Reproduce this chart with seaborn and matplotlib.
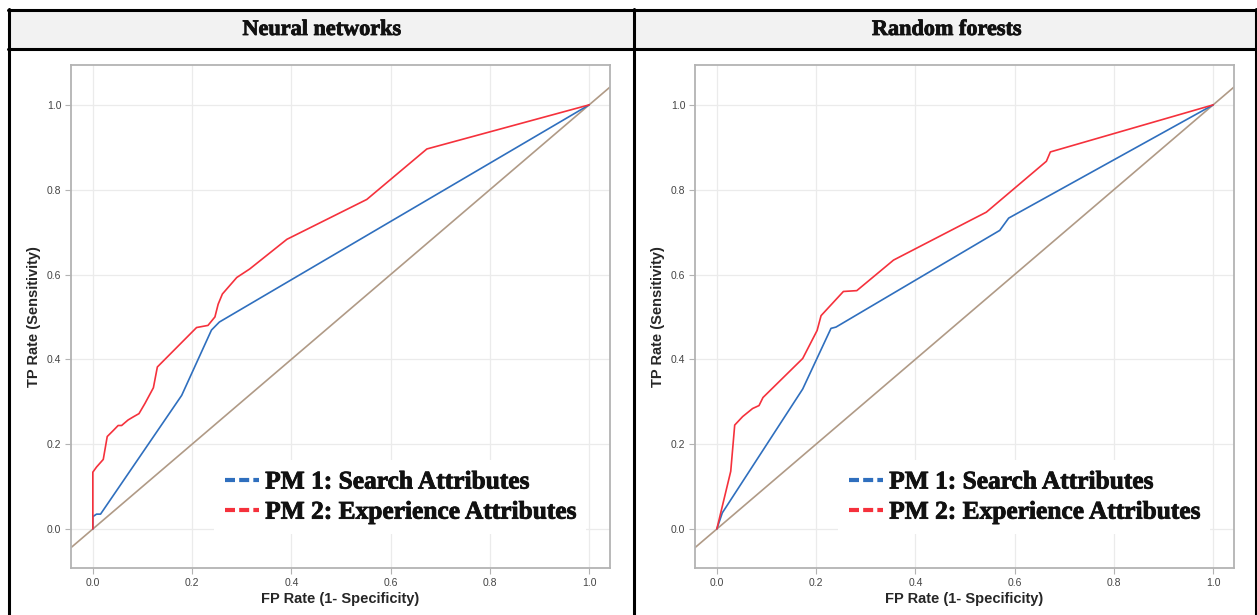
import numpy as np
import pandas as pd
import matplotlib
matplotlib.use("Agg")
import matplotlib.pyplot as plt
from matplotlib.lines import Line2D
from matplotlib.patches import Rectangle
from matplotlib.font_manager import FontProperties
import matplotlib.patheffects as pe
import seaborn as sns

# ---------------- data ----------------
panel_titles = ["Neural networks", "Random forests"]
series_names = ["PM 1: Search Attributes", "PM 2: Experience Attributes"]

nn_pm1_fpr = [0.0, 0.0, 0.0074, 0.0155, 0.179, 0.239, 0.255, 1.0]
nn_pm1_tpr = [0.0, 0.029, 0.035, 0.035, 0.315, 0.469, 0.488, 1.0]
nn_pm2_fpr = [0.0, 0.0, 0.0074, 0.021, 0.029, 0.041, 0.051, 0.058, 0.071, 0.081,
              0.093, 0.105, 0.122, 0.130, 0.209, 0.232, 0.246, 0.2525, 0.261,
              0.290, 0.316, 0.391, 0.552, 0.673, 1.0]
nn_pm2_tpr = [0.0, 0.134, 0.146, 0.164, 0.218, 0.232, 0.244, 0.244, 0.257, 0.264,
              0.272, 0.296, 0.333, 0.382, 0.475, 0.480, 0.500, 0.530, 0.554,
              0.593, 0.613, 0.683, 0.777, 0.896, 1.0]

rf_pm1_fpr = [0.0, 0.011, 0.173, 0.230, 0.240, 0.570, 0.588, 1.0]
rf_pm1_tpr = [0.0, 0.038, 0.330, 0.473, 0.476, 0.704, 0.733, 1.0]
rf_pm2_fpr = [0.0, 0.028, 0.036, 0.052, 0.072, 0.085, 0.093, 0.173, 0.202, 0.210,
              0.255, 0.282, 0.356, 0.513, 0.543, 0.664, 0.672, 1.0]
rf_pm2_tpr = [0.0, 0.136, 0.245, 0.265, 0.284, 0.291, 0.310, 0.402, 0.468, 0.503,
              0.560, 0.562, 0.634, 0.729, 0.747, 0.867, 0.889, 1.0]

x_ticks = [0.0, 0.2, 0.4, 0.6, 0.8, 1.0]
y_ticks = [0.0, 0.2, 0.4, 0.6, 0.8, 1.0]

# ---------------- style ----------------
sns.set_theme(style="whitegrid")
plt.rcParams["font.family"] = ["Liberation Sans", "DejaVu Sans"]

BLUE = "#2f6fbe"
RED = "#f5313c"
DIAG = "#b09a86"
GRID = "#ebebeb"
SPINE = "#b3b3b3"

def serif(size):
    return FontProperties(family=["Liberation Serif", "DejaVu Serif"],
                          weight="bold", size=size)

# light faux-bold stroke (serif bold face may be missing)
BOLD = [pe.withStroke(linewidth=0.6, foreground="#111111")]

def build(fpr1, tpr1, fpr2, tpr2):
    df1 = pd.DataFrame({"fpr": fpr1, "tpr": tpr1, "model": series_names[0]})
    df2 = pd.DataFrame({"fpr": fpr2, "tpr": tpr2, "model": series_names[1]})
    return pd.concat([df1, df2], ignore_index=True)

data = [build(nn_pm1_fpr, nn_pm1_tpr, nn_pm2_fpr, nn_pm2_tpr),
        build(rf_pm1_fpr, rf_pm1_tpr, rf_pm2_fpr, rf_pm2_tpr)]

W, H = 1257, 615
fig = plt.figure(figsize=(W / 100, H / 100), dpi=100)

def fx(px):
    return px / W

def fy(py):
    return 1 - py / H

# table header / borders
fig.patches.append(Rectangle((fx(9), fy(49)), fx(1257 - 9), fy(10) - fy(49),
                             transform=fig.transFigure, facecolor="#f2f2f2",
                             edgecolor="none", zorder=0))
for (x0, y0, x1, y1) in [(8, 10, 1257, 10), (8, 49, 1257, 49),
                         (9, 9, 9, 615), (634, 9, 634, 615), (1256, 9, 1256, 615)]:
    fig.add_artist(Line2D([fx(x0), fx(x1)], [fy(y0), fy(y1)], color="black",
                          lw=2.2, transform=fig.transFigure, zorder=5))

for cx, title in zip([322, 947], panel_titles):
    fig.text(fx(cx), fy(30), title, ha="center", va="center", color="#111111",
             fontproperties=serif(16), path_effects=BOLD)

axes_px = [(71, 610), (695, 1234)]
for (l, r), df in zip(axes_px, data):
    ax = fig.add_axes([fx(l), fy(568), fx(r) - fx(l), fy(65) - fy(568)])
    ax.set_facecolor("white")
    ax.axline((0, 0), (1, 1), color=DIAG, lw=1.2, zorder=1)
    sns.lineplot(data=df, x="fpr", y="tpr", hue="model", sort=False,
                 estimator=None,
                 palette={series_names[0]: BLUE, series_names[1]: RED},
                 linewidth=1.2, ax=ax, legend=False, zorder=3)
    ax.set_xlim(-0.044, 1.042)
    ax.set_ylim(-0.092, 1.094)
    ax.set_xticks(x_ticks)
    ax.set_yticks(y_ticks)
    ax.set_xticklabels([f"{v:.1f}" for v in x_ticks])
    ax.set_yticklabels([f"{v:.1f}" for v in y_ticks])
    ax.grid(True, color=GRID, lw=0.9)
    for s in ax.spines.values():
        s.set_color(SPINE)
        s.set_linewidth(1.3)
    ax.tick_params(axis="both", which="both", length=4, width=0.8, color=SPINE,
                   labelsize=7.5, labelcolor="#444444", pad=3, bottom=True, left=True)
    ax.set_xlabel("FP Rate (1- Specificity)", fontsize=10.5, fontweight="bold",
                  labelpad=3)
    ax.set_ylabel("TP Rate (Sensitivity)", fontsize=10.5, fontweight="bold",
                  labelpad=4)
    handles = [Line2D([], [], color=BLUE, lw=3, dashes=(2.4, 1.0)),
               Line2D([], [], color=RED, lw=3, dashes=(2.4, 1.0))]
    leg = ax.legend(handles, series_names, loc="center left",
                    bbox_to_anchor=(0.266, 0.141), frameon=True, framealpha=1,
                    facecolor="white", edgecolor="none", fancybox=False,
                    prop=serif(18.3),
                    handlelength=1.35, handletextpad=0.25, labelspacing=0.28,
                    borderpad=0.4, borderaxespad=0)
    for t in leg.get_texts():
        t.set_color("#111111")
        t.set_path_effects(BOLD)
    leg.set_zorder(4)

fig.savefig("out.png", dpi=100)
